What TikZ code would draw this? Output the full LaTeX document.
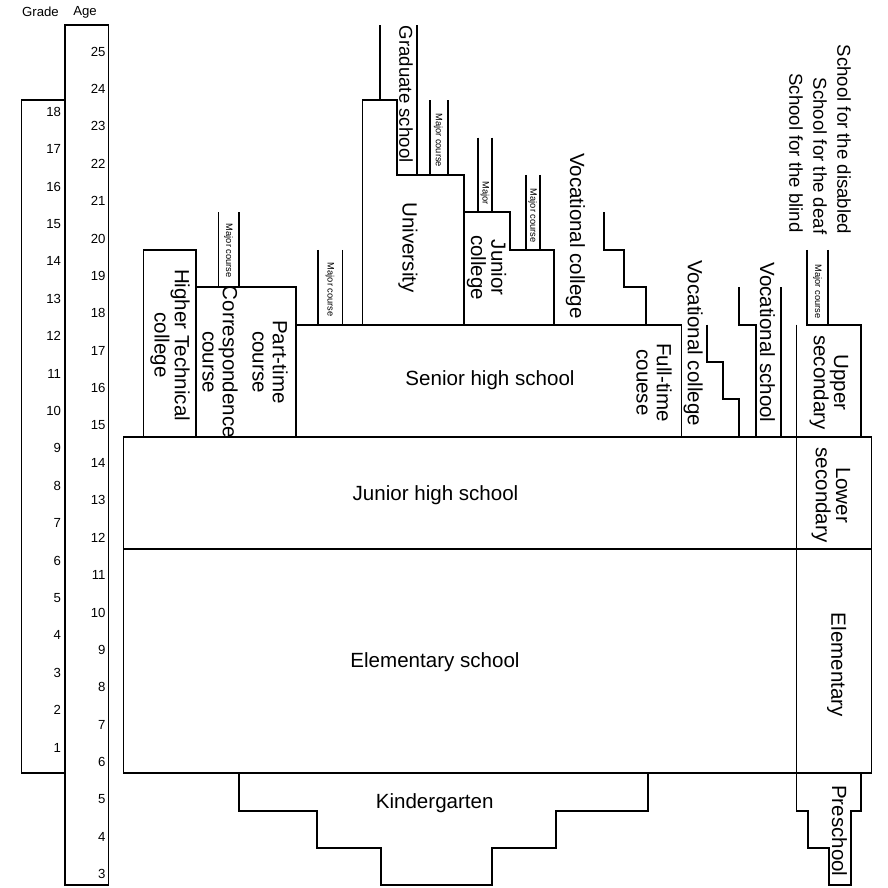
\documentclass[tikz,border=0pt]{standalone}
\usepackage{fontspec}
\setmainfont{Liberation Sans}
\usepackage{tikz}

\begin{document}
\begin{tikzpicture}[x=0.02cm, y=0.748cm, line width=1.1pt,
		lbl/.style={font=\fontsize{11.7}{11.5}\selectfont, align=center, inner sep=0pt},
		vlbl/.style={lbl, rotate=-90},
		slbl/.style={font=\fontsize{10.6}{11}\selectfont, rotate=-90, anchor=east, inner sep=0pt},
		tiny/.style={font=\fontsize{5.3}{6}\selectfont, rotate=-90, inner sep=0pt},
		num/.style={font=\fontsize{7.5}{8}\selectfont, anchor=east, inner sep=0pt}]
		\useasboundingbox (0,2.933) rectangle (888,26.68);
		
		\draw (65,6) -- (21.5,6) -- (21.5,24) -- (65,24);
		\draw (65,3) rectangle (108.5,26);
		\node[num, anchor=center] (grade) at (40.5,26.36) {Grade};
		\node[num, anchor=center] (age) at (85,26.36) {Age};
		\foreach \g in {1,...,18}{
			\node[num] (g\g) at (62,\g+5.69) {\g};
		}
		\foreach \a in {3,...,25}{
			\node[num] (a\a) at (106.5,\a+0.3) {\a};
		}
		
		\draw (123.5,6) rectangle (871.5,15);
		\draw (123.5,12) -- (871.5,12);
		\draw (796.5,18) -- (796.5,5) -- (808.3,5) -- (808.3,4) -- (829.3,4) -- (829.3,3)
			-- (850.7,3) -- (850.7,5) -- (861,5) -- (861,6);
		\draw (806.7,20) -- (806.7,18) -- (861,18) -- (861,15);
		\draw (828.3,20) -- (828.3,18);
		
		\draw (239,6) -- (239,5) -- (317.3,5) -- (317.3,4) -- (380.7,4) -- (380.7,3)
			-- (492.3,3) -- (492.3,4) -- (555.7,4) -- (555.7,5) -- (647.7,5) -- (647.7,6);
		
		\draw (143.5,15) -- (143.5,20) -- (196,20) -- (196,15);
		\draw (196,19) -- (296,19) -- (296,15);
		\draw (218.5,21) -- (218.5,19) (239,21) -- (239,19);
		
		\draw (296,18) -- (681.5,18) -- (681.5,15);
		\draw (318,20) -- (318,18) (342.5,20) -- (342.5,18);
		\draw (362.5,18) -- (362.5,24) -- (396.7,24) -- (396.7,22) -- (464,22) -- (464,18);
		\draw (380,26) -- (380,24);
		\draw (416.7,26) -- (416.7,22);
		\draw (430,24) -- (430,22) (447.7,24) -- (447.7,22);
		\draw (464,21) -- (510,21) -- (510,20) -- (554.3,20) -- (554.3,18);
		\draw (477.7,23) -- (477.7,21) (492,23) -- (492,21);
		\draw (525.7,22) -- (525.7,20) (540,22) -- (540,20);
		\draw (604,21) -- (604,20) -- (624.3,20) -- (624.3,19) -- (646,19) -- (646,18);
		\draw (707.3,18) -- (707.3,17) -- (722.7,17) -- (722.7,16) -- (739.3,16) -- (739.3,15);
		\draw (739.3,19) -- (739.3,18) -- (755.7,18) -- (755.7,15);
		\draw (781,19) -- (781,15);
		
		\node[vlbl] (htc) at (170,17.45) {Higher Technical\\college};
		\node[vlbl] (corr) at (220,17.0) {Correspondence\\course};
		\node[vlbl] (part) at (270,17.0) {Part-time\\course};
		\node[lbl] (shs) at (490,16.52) {Senior high school};
		\node[vlbl] (full) at (654,16.45) {Full-time\\couese};
		\node[slbl, anchor=center] (grad) at (406,24.16) {Graduate school};
		\node[vlbl] (univ) at (408,20.06) {University};
		\node[vlbl] (jc) at (486.5,19.52) {Junior\\college};
		\node[vlbl] (vc1) at (575.5,20.37) {Vocational college};
		\node[vlbl] (vc2) at (693.3,17.5) {Vocational college};
		\node[vlbl] (vs) at (767.5,17.52) {Vocational school};
		\node[vlbl] (upper) at (829,16.45) {Upper\\secondary};
		\node[vlbl] (lower) at (831,13.44) {Lower\\secondary};
		\node[vlbl] (elem) at (836.6,8.9) {Elementary};
		\node[vlbl] (pre) at (839.5,4.46) {Preschool};
		\node[lbl] (jhs) at (435.5,13.44) {Junior high school};
		\node[lbl] (es) at (435,8.98) {Elementary school};
		\node[lbl] (kg) at (434.7,5.21) {Kindergarten};
		
		\node[slbl] (disabled) at (844,20.39) {School for the disabled};
		\node[slbl] (deaf) at (820,20.39) {School for the deaf};
		\node[slbl] (blind) at (796,20.43) {School for the blind};
		
		\node[tiny] (m1) at (228.5,19.97) {Major course};
		\node[tiny] (m2) at (330,18.93) {Major course};
		\node[tiny] (m3) at (438.3,22.93) {Major course};
		\node[tiny] (m4) at (485,21.52) {Major};
		\node[tiny] (m5) at (532.8,20.91) {Major course};
		\node[tiny] (m6) at (817.5,18.88) {Major course};
	\end{tikzpicture}
\end{document}
